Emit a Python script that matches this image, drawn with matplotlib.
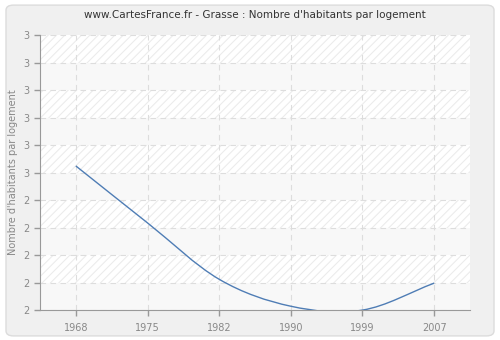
import numpy as np
import matplotlib
matplotlib.use("Agg")
import matplotlib.pyplot as plt
from matplotlib.path import Path
from matplotlib.patches import PathPatch, FancyBboxPatch

# data
years = ['1968', '1975', '1982', '1990', '1999', '2007']
values = [2.524, 2.317, 2.112, 2.014, 2.000, 2.098]
ytick_values = [2.0, 2.1, 2.2, 2.3, 2.4, 2.5, 2.6, 2.7, 2.8, 2.9, 3.0]
ytick_labels = ['2', '2', '2', '2', '2', '3', '3', '3', '3', '3', '3']

plt.rcParams['font.family'] = ['DejaVu Sans']
plt.rcParams['hatch.linewidth'] = 0.8
plt.rcParams['hatch.color'] = '#ececec'

fig = plt.figure(figsize=(5, 3.4), dpi=100)
fig.patch.set_facecolor('white')
# rounded light grey panel behind everything
fig.patches.append(FancyBboxPatch((0.012, 0.012), 0.976, 0.973,
                                  boxstyle="round,pad=0,rounding_size=0.015",
                                  transform=fig.transFigure, facecolor='#f0f0f0',
                                  edgecolor='#dcdcdc', linewidth=1, zorder=-10))

ax = fig.add_axes([0.08, 0.088, 0.86, 0.809])
ax.set_facecolor('#f8f8f8')

# alternating hatched bands
for lo in np.arange(2.1, 3.0, 0.2):
    ax.axhspan(lo, lo + 0.1, facecolor='#ffffff', edgecolor='#ececec', hatch='////',
               linewidth=0, zorder=0)

x = np.arange(len(years))
y = np.array(values)

# smooth curve through the points (Catmull-Rom tangents as cubic Bezier)
tang = np.gradient(y, x)
verts = [(x[0], y[0])]
codes = [Path.MOVETO]
for i in range(len(x) - 1):
    verts += [(x[i] + 1 / 3, y[i] + tang[i] / 3),
              (x[i + 1] - 1 / 3, y[i + 1] - tang[i + 1] / 3),
              (x[i + 1], y[i + 1])]
    codes += [Path.CURVE4] * 3
ax.add_patch(PathPatch(Path(verts, codes), facecolor='none', edgecolor='#4f7db5',
                       linewidth=1, zorder=3))

ax.set_xlim(-0.5, len(years) - 0.5)
ax.set_ylim(2.0, 3.0)
ax.set_xticks(x)
ax.set_xticklabels(years)
ax.set_yticks(ytick_values)
ax.set_yticklabels(ytick_labels)

ax.grid(True, color='#dddddd', linestyle=(0, (5, 4)), linewidth=0.8)
ax.set_axisbelow(True)

for side in ['top', 'right']:
    ax.spines[side].set_visible(False)
for side in ['left', 'bottom']:
    ax.spines[side].set_color('#999999')
ax.tick_params(colors='#999999', labelcolor='#888888', labelsize=7, length=4, width=1)
ax.tick_params(axis='x', pad=5)

ax.set_ylabel("Nombre d'habitants par logement", fontsize=7, color='#888888', labelpad=4)
ax.set_title("www.CartesFrance.fr - Grasse : Nombre d'habitants par logement",
             fontsize=7.5, color='#333333', pad=12)

fig.savefig("out.png", dpi=100, facecolor=fig.get_facecolor())
